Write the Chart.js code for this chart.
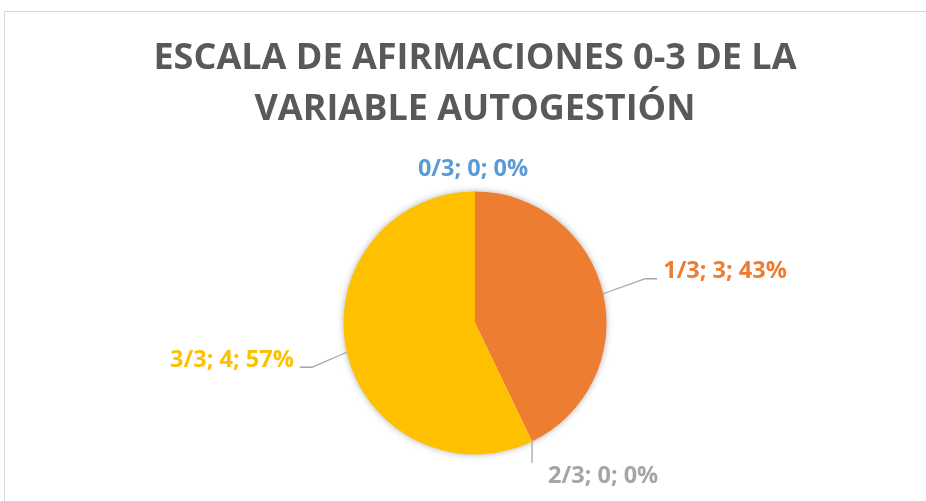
<!DOCTYPE html>
<html>
<head>
<meta charset="utf-8">
<script src="https://cdn.jsdelivr.net/npm/chart.js@4"></script>
<style>
  html, body { margin: 0; padding: 0; background: #fff; }
  #frame { position: absolute; left: 4px; top: 11px; width: 1000px; height: 600px; border: 1px solid #d9d9d9; }
  #wrap { position: absolute; left: 0; top: 0; width: 926px; height: 501px; }
</style>
</head>
<body>
<div id="frame"></div>
<div id="wrap"><canvas id="chart" width="926" height="501"></canvas></div>
<script>
const categories = ['0/3', '1/3', '2/3', '3/3'];
const counts = [0, 3, 0, 4];
const sliceColors = ['#5B9BD5', '#ED7D31', '#A5A5A5', '#FFC000'];
const labelColors = ['#5B9BD5', '#ED7D31', '#A5A5A5', '#FFC000'];
const titleLines = ['ESCALA DE AFIRMACIONES 0-3 DE LA', 'VARIABLE AUTOGESTIÓN'];

const total = counts.reduce((a, b) => a + b, 0);

// where each data label sits, relative to the point on the rim it belongs to
const placement = [
    { line: [], text: [-2, -15.5], align: 'center' },
    { line: [[42, -15], [54, -15]], text: [60, -15.5], align: 'left' },
    { line: [[0, 21.5]], text: [16, 41.5], align: 'left' },
    { line: [[-35, 15], [-47, 15]], text: [-53, 15], align: 'right' }
];

const leaderLabels = {
    id: 'leaderLabels',
    beforeDatasetsDraw(chart) {
        const arc = chart.getDatasetMeta(0).data[0];
        if (!arc) return;
        const ctx = chart.ctx;
        ctx.save();
        ctx.shadowColor = 'rgba(0,0,0,0.35)';
        ctx.shadowBlur = 7;
        ctx.fillStyle = '#fff';
        ctx.beginPath();
        ctx.arc(arc.x, arc.y, arc.outerRadius - 0.5, 0, Math.PI * 2);
        ctx.fill();
        ctx.restore();
    },
    afterDatasetsDraw(chart) {
        const ctx = chart.ctx;
        const meta = chart.getDatasetMeta(0);
        ctx.save();
        meta.data.forEach((arc, i) => {
            const { x, y, outerRadius, startAngle, endAngle } =
                arc.getProps(['x', 'y', 'outerRadius', 'startAngle', 'endAngle'], true);
            const mid = (startAngle + endAngle) / 2;
            const ax = x + outerRadius * Math.cos(mid);
            const ay = y + outerRadius * Math.sin(mid);
            const p = placement[i];

            if (p.line.length) {
                ctx.strokeStyle = '#A6A6A6';
                ctx.lineWidth = 1.3;
                ctx.beginPath();
                ctx.moveTo(ax, ay);
                p.line.forEach(pt => ctx.lineTo(ax + pt[0], ay + pt[1]));
                ctx.stroke();
            }

            const pct = Math.round(counts[i] / total * 100);
            const txt = categories[i] + '; ' + counts[i] + '; ' + pct + '%';
            ctx.fillStyle = labelColors[i];
            ctx.font = 'bold 23.5px "Open Sans"';
            ctx.textAlign = p.align;
            ctx.textBaseline = 'alphabetic';
            ctx.fillText(txt, ax + p.text[0], ay + p.text[1]);
        });
        ctx.restore();
    }
};

new Chart(document.getElementById('chart'), {
    type: 'pie',
    data: {
        labels: categories,
        datasets: [{
            data: counts,
            backgroundColor: sliceColors,
            borderWidth: 0
        }]
    },
    options: {
        responsive: false,
        animation: false,
        layout: { padding: { left: 24, right: 0, top: 0, bottom: 46.5 } },
        plugins: {
            legend: { display: false },
            tooltip: { enabled: false },
            title: {
                display: true,
                text: titleLines,
                color: '#595959',
                font: { family: '"Open Sans"', size: 36, weight: 'bold', lineHeight: 51 / 36 },
                padding: { top: 33, bottom: 56.5 }
            }
        }
    },
    plugins: [leaderLabels]
});
</script>
</body>
</html>
